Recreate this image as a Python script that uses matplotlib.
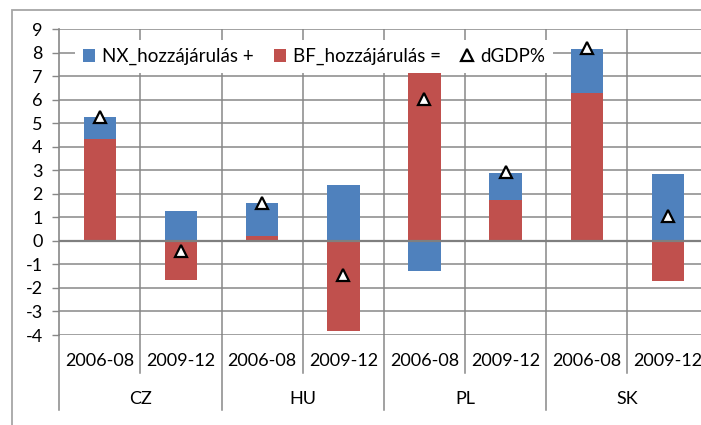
import matplotlib
matplotlib.use("Agg")
import matplotlib.pyplot as plt
import matplotlib.transforms as mtransforms
from matplotlib.patches import Rectangle, Patch
from matplotlib.lines import Line2D
import numpy as np

plt.rcParams['font.family'] = ['Lato', 'DejaVu Sans']

countries = ["CZ", "HU", "PL", "SK"]
periods = ["2006-08", "2009-12"]
nx = [0.90, 1.26, 1.41, 2.37, -1.29, 1.15, 1.85, 2.83]
bf = [4.35, -1.67, 0.21, -3.84, 7.15, 1.76, 6.30, -1.72]
dgdp = [5.25, -0.43, 1.60, -1.46, 6.02, 2.94, 8.19, 1.06]
yticks = list(range(-4, 10))

blue = "#4F81BD"
red = "#C0504D"
grid = "#878787"

W, H = 701, 425
fig = plt.figure(figsize=(W / 100, H / 100), dpi=100)
left_px, right_px, top_px, bot_px = 59.3, 708.5, 29.3, 335.0
ax = fig.add_axes([left_px / W, 1 - bot_px / H, (right_px - left_px) / W, (bot_px - top_px) / H])

n = len(nx)
x = np.arange(n)
nx_a = np.array(nx)
bf_a = np.array(bf)
# Excel-style stacking: positives stack on positives, negatives on negatives
bf_bottom = np.zeros(n)
nx_bottom = np.where((nx_a >= 0) & (bf_a >= 0), bf_a, np.where((nx_a < 0) & (bf_a < 0), bf_a, 0.0))
bw = 0.40
ax.bar(x, bf_a, bw, bottom=bf_bottom, color=red, zorder=3, edgecolor='none')
ax.bar(x, nx_a, bw, bottom=nx_bottom, color=blue, zorder=3, edgecolor='none')
ax.plot(x, dgdp, linestyle='none', marker='^', markersize=9, markerfacecolor='white',
        markeredgecolor='black', markeredgewidth=1.6, zorder=5)

fs = 13
ax.set_xlim(-0.5, n - 0.5)
ax.set_ylim(-4, 9)
ax.set_yticks(yticks)
ax.set_yticklabels([str(t) for t in yticks], fontsize=fs)
ax.tick_params(axis='y', direction='out', length=5, width=1, color=grid, pad=7)
ax.set_xticks([])
for s in ax.spines.values():
    s.set_visible(False)
ax.spines['left'].set_visible(True)
ax.spines['left'].set_color(grid)
ax.spines['left'].set_linewidth(1.2)

# gridlines
for t in yticks:
    ax.axhline(t, color=grid, lw=1.1, zorder=1)
for b in np.arange(0.5, n, 1.0):
    ax.axvline(b, color=grid, lw=1.1, zorder=1)
ax.axhline(0, color="#7f7f7f", lw=1.6, zorder=4)

# two-level category axis
trans = mtransforms.blended_transform_factory(ax.transData, ax.transAxes)
ax_h = bot_px - top_px
def ay(px):
    return -(px - bot_px) / ax_h

labels = [p for c in countries for p in periods]
for i, lab in enumerate(labels):
    ax.text(i, ay(361.5), lab, transform=trans, ha='center', va='center', fontsize=fs)
for i, c in enumerate(countries):
    ax.text(2 * i + 0.5, ay(399), c, transform=trans, ha='center', va='center', fontsize=fs)
for b in np.arange(-0.5, n, 1.0):
    major = (int(round(b + 0.5)) % 2 == 0)
    yb = ay(410) if major else ay(373)
    ax.plot([b, b], [0, yb], transform=trans, color=grid, lw=1.1, clip_on=False)

# legend
handles = [Patch(facecolor=blue, edgecolor='none'), Patch(facecolor=red, edgecolor='none'),
           Line2D([], [], linestyle='none', marker='^', markersize=9, markerfacecolor='white',
                  markeredgecolor='black', markeredgewidth=1.6)]
leg = fig.legend(handles, ["NX_hozzájárulás +", "BF_hozzájárulás =", "dGDP%"], ncol=3,
                 loc='center left', bbox_to_anchor=(66 / W, 1 - 56.5 / H), frameon=True,
                 fontsize=13.5, handlelength=0.65, handleheight=0.65, handletextpad=0.35,
                 columnspacing=1.1, borderpad=0.4, fancybox=False)
leg.get_frame().set_facecolor('white')
leg.get_frame().set_edgecolor('none')
leg.get_frame().set_alpha(1)
leg.set_zorder(10)

# outer chart border
fig.patches.append(Rectangle((12 / W, -0.1), 1.2, 1 - 10 / H + 0.1, transform=fig.transFigure,
                             fill=False, edgecolor="#A6A6A6", lw=1.3))

fig.savefig("out.png", dpi=100)
